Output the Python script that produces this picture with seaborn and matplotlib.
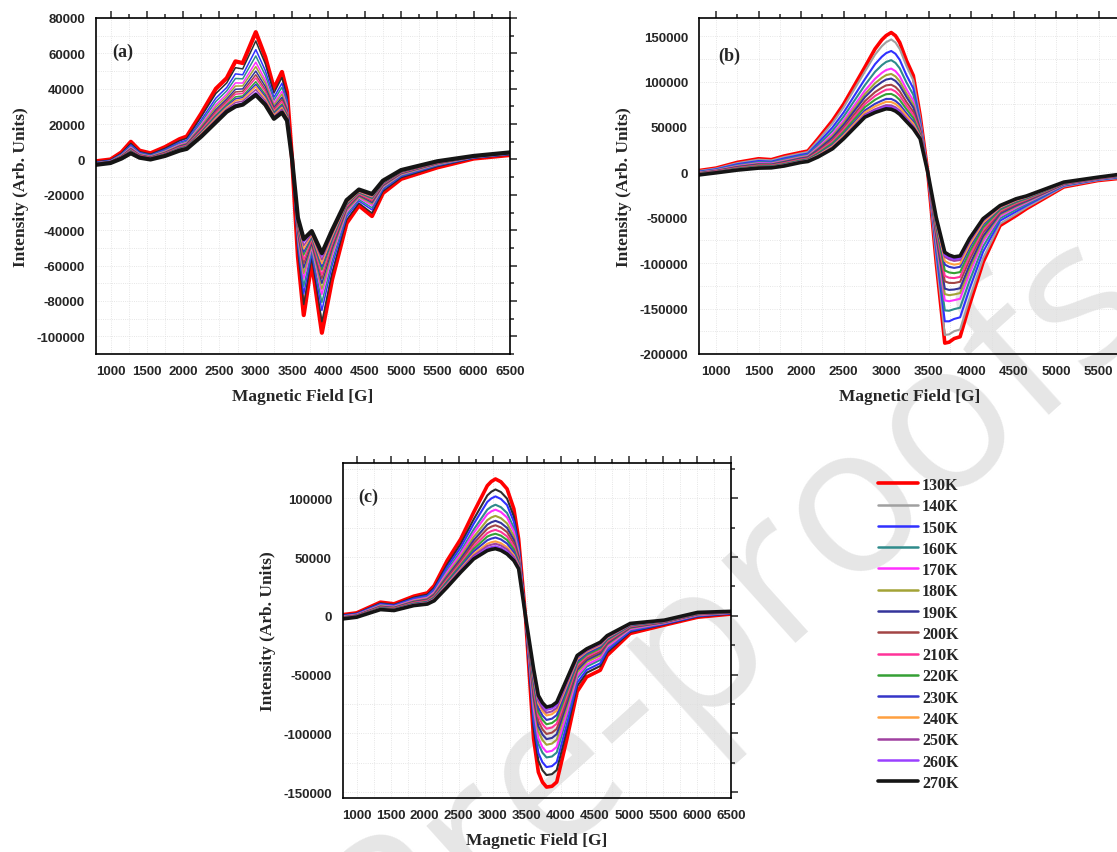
import matplotlib
matplotlib.use('Agg')
import matplotlib.pyplot as plt
from matplotlib.ticker import MultipleLocator
from matplotlib.lines import Line2D
import pandas as pd
import seaborn as sns

sns.set_style("white")
plt.rcParams['font.family'] = ['Liberation Sans', 'DejaVu Sans']
plt.rcParams['font.weight'] = 'bold'
plt.rcParams['axes.unicode_minus'] = False

temps = ['130K', '140K', '150K', '160K', '170K', '180K', '190K', '200K',
         '210K', '220K', '230K', '240K', '250K', '260K', '270K']
colors = ['#ff0000', '#a0a0a0', '#3030ff', '#2e8b8b', '#ff30ff', '#a3a336',
          '#34349a', '#a34545', '#ff3399', '#35a035', '#3535c8', '#ffa040',
          '#a040a0', '#9a40ff', '#151515']

# ---- panel (a) ----
field_a = [800, 1000, 1150, 1280, 1400, 1550, 1750, 1950, 2050, 2250, 2450, 2600, 2720, 2820, 3000, 3130, 3250,
           3360, 3430, 3500, 3580, 3660, 3770, 3910, 4050, 4250, 4420, 4600, 4750, 5000, 5500, 6000, 6500]
a130 = [-1000, 0, 4000, 10000, 5000, 3500, 7000, 11500, 13000, 26000, 40000, 46000, 55500, 54500, 72000, 58000, 40000, 49500, 38000, 0, -55000, -88000, -58000, -98000, -68000, -36000, -26000, -32000, -19000, -11000, -4500, 500, 2500]
a140 = [-1300, -300, 3500, 9100, 4400, 3000, 6300, 10600, 12000, 24200, 37300, 43300, 51900, 51200, 67000, 54200, 37600, 46300, 35800, 0, -51900, -82000, -55600, -91700, -64100, -34200, -24700, -30300, -18000, -10300, -4000, 700, 2700]
a150 = [-1600, -600, 3000, 8200, 3900, 2500, 5600, 9700, 11000, 22400, 34700, 40700, 48400, 47900, 62100, 50400, 35200, 43100, 33500, 0, -48800, -76000, -53100, -85400, -60200, -32400, -23500, -28500, -17000, -9600, -3500, 900, 2900]
a160 = [-1800, -800, 2700, 7500, 3500, 2200, 5100, 9000, 10300, 21100, 32800, 38800, 45800, 45600, 58500, 47700, 33500, 40800, 31900, 0, -46600, -71700, -51400, -80900, -57400, -31100, -22600, -27300, -16300, -9100, -3200, 1100, 3100]
a170 = [-2000, -1000, 2300, 6900, 3100, 1800, 4600, 8400, 9600, 19800, 30900, 36900, 43300, 43200, 55000, 45000, 31800, 38500, 30300, 0, -44400, -67400, -49600, -76400, -54600, -29800, -21700, -26000, -15600, -8600, -2800, 1200, 3200]
a180 = [-2100, -1100, 2100, 6400, 2800, 1600, 4300, 7900, 9200, 18900, 29600, 35600, 41500, 41600, 52500, 43200, 30700, 36900, 29200, 0, -42900, -64400, -48400, -73300, -52600, -28900, -21100, -25100, -15200, -8300, -2600, 1300, 3300]
a190 = [-2200, -1200, 1800, 6000, 2500, 1300, 3900, 7500, 8700, 17900, 28200, 34200, 39700, 39900, 50000, 41300, 29500, 35200, 28100, 0, -41400, -61300, -47200, -70100, -50600, -27900, -20400, -24300, -14700, -7900, -2300, 1400, 3400]
a200 = [-2400, -1400, 1600, 5600, 2300, 1100, 3600, 7100, 8200, 17200, 27100, 33100, 38200, 38500, 47900, 39600, 28400, 33900, 27100, 0, -40000, -58800, -46100, -67400, -49000, -27200, -19900, -23500, -14200, -7600, -2100, 1500, 3500]
a210 = [-2500, -1500, 1400, 5300, 2100, 900, 3400, 6800, 7900, 16500, 26100, 32100, 36900, 37300, 46100, 38300, 27600, 32700, 26300, 0, -38900, -56600, -45200, -65200, -47600, -26500, -19400, -22900, -13900, -7400, -1900, 1600, 3600]
a220 = [-2600, -1600, 1200, 4900, 1800, 700, 3100, 6400, 7500, 15700, 25000, 31000, 35400, 35900, 44000, 36700, 26600, 31300, 25400, 0, -37600, -54000, -44200, -62500, -45900, -25700, -18900, -22100, -13500, -7100, -1700, 1700, 3700]
a230 = [-2700, -1700, 1100, 4600, 1700, 600, 2900, 6100, 7200, 15200, 24200, 30200, 34300, 35000, 42500, 35600, 25900, 30400, 24700, 0, -36700, -52300, -43500, -60700, -44800, -25200, -18500, -21600, -13200, -6900, -1600, 1700, 3700]
a240 = [-2700, -1700, 1000, 4300, 1500, 500, 2700, 5800, 6900, 14700, 23500, 29500, 33300, 34100, 41100, 34500, 25200, 29500, 24100, 0, -35900, -50600, -42800, -58900, -43600, -24700, -18200, -21100, -12900, -6700, -1500, 1800, 3800]
a250 = [-2800, -1800, 800, 4100, 1300, 300, 2400, 5600, 6600, 14100, 22600, 28600, 32200, 33000, 39500, 33300, 24400, 28500, 23400, 0, -34900, -48700, -42000, -56800, -42400, -24100, -17800, -20600, -12600, -6400, -1300, 1900, 3900]
a260 = [-2900, -1900, 600, 3800, 1200, 100, 2200, 5300, 6300, 13500, 21800, 27800, 31000, 31900, 37900, 32100, 23700, 27400, 22600, 0, -33900, -46700, -41200, -54800, -41100, -23500, -17400, -20000, -12300, -6200, -1100, 1900, 3900]
a270 = [-3000, -2000, 500, 3500, 1000, 0, 2000, 5000, 6000, 13000, 21000, 27000, 30000, 31000, 36500, 31000, 23000, 26500, 22000, 0, -33000, -45000, -40500, -53000, -40000, -23000, -17000, -19500, -12000, -6000, -1000, 2000, 4000]

# ---- panel (b) ----
field_b = [800, 1000, 1250, 1500, 1650, 1800, 2000, 2080, 2200, 2370, 2500, 2750, 2870, 2950, 3000, 3060, 3110, 3160,
           3240, 3320, 3400, 3490, 3590, 3690, 3740, 3800, 3870, 3980, 4140, 4340, 4530, 4650, 5090, 5490, 5880, 6500]
b130 = [2000, 4700, 11000, 15000, 14000, 18000, 22000, 23500, 37000, 57000, 75000, 115800, 136000, 146000, 150600, 154000, 150500, 143000, 123000, 106500, 62500, 0, -100000, -188000, -187000, -183000, -181000, -146000, -99000, -58500, -47500, -40000, -16000, -9000, -5300, -2000]
b140 = [1600, 4200, 10200, 14100, 13200, 17000, 21000, 22500, 35200, 54200, 71600, 110900, 129700, 139000, 143300, 146400, 143000, 135900, 117000, 101200, 60200, 0, -95500, -179000, -178400, -174900, -173000, -139400, -94700, -56500, -45800, -38700, -15500, -8700, -4900, -1600]
b150 = [800, 3500, 9000, 12500, 11800, 15400, 19400, 20700, 32200, 49600, 65900, 102600, 119200, 127400, 131300, 133700, 130600, 124000, 106900, 92500, 56400, 0, -88000, -164000, -164000, -161400, -159600, -128500, -87500, -53200, -43100, -36600, -14700, -8100, -4100, -1000]
b160 = [300, 2800, 7900, 11300, 10800, 14000, 18000, 19400, 29800, 45800, 61300, 96000, 110800, 118100, 121600, 123600, 120600, 114600, 98900, 85400, 53300, 0, -82000, -152000, -152400, -150600, -149000, -119700, -81700, -50600, -40800, -35000, -14100, -7700, -3600, -600]
b170 = [-300, 2300, 7000, 10200, 9800, 12800, 16800, 18100, 27600, 42400, 57100, 90000, 103100, 109600, 112700, 114300, 111500, 105900, 91500, 79000, 50500, 0, -76500, -141000, -141900, -140700, -139200, -111700, -76400, -48200, -38800, -33400, -13500, -7300, -3000, -100]
b180 = [-600, 1900, 6400, 9400, 9100, 12100, 16100, 17300, 26200, 40300, 54500, 86100, 98200, 104200, 107100, 108400, 105700, 100300, 86800, 74900, 48700, 0, -73000, -134000, -135200, -134400, -132900, -106600, -73100, -46600, -37500, -32400, -13100, -7000, -2700, 200]
b190 = [-900, 1600, 5900, 8800, 8600, 11400, 15400, 16600, 25000, 38400, 52200, 82800, 94000, 99500, 102200, 103300, 100700, 95600, 82800, 71400, 47200, 0, -70000, -128000, -129400, -129000, -127600, -102200, -70200, -45300, -36400, -31600, -12800, -6800, -2400, 400]
b200 = [-1300, 1200, 5200, 8000, 7900, 10500, 14500, 15700, 23400, 35900, 49200, 78400, 88400, 93300, 95800, 96500, 94100, 89300, 77400, 66700, 45200, 0, -66000, -120000, -121700, -121800, -120500, -96400, -66400, -43500, -34900, -30500, -12400, -6500, -2000, 700]
b210 = [-1600, 900, 4700, 7400, 7300, 9900, 13900, 15000, 22200, 34100, 46900, 75100, 84200, 88700, 91000, 91500, 89100, 84500, 73400, 63200, 43600, 0, -63000, -114000, -116000, -116400, -115100, -92000, -63500, -42200, -33800, -29600, -12100, -6300, -1700, 1000]
b220 = [-1800, 500, 4200, 6800, 6800, 9200, 13200, 14300, 21000, 32200, 44600, 71800, 80000, 84000, 86100, 86400, 84100, 79800, 69400, 59700, 42100, 0, -60000, -108000, -110200, -111000, -109800, -87600, -60600, -40900, -32700, -28800, -11800, -6000, -1500, 1200]
b230 = [-2200, 200, 3600, 6100, 6200, 8500, 12500, 13600, 19700, 30200, 42100, 68200, 75500, 79000, 80900, 80900, 78700, 74700, 65000, 55900, 40400, 0, -56800, -101500, -104000, -105200, -104000, -82900, -57500, -39500, -31500, -27900, -11400, -5800, -1100, 1500]
b240 = [-2300, 0, 3300, 5700, 5900, 8000, 12000, 13100, 18900, 28900, 40600, 66000, 72700, 75900, 77700, 77500, 75400, 71500, 62400, 53600, 39400, 0, -54800, -97500, -100100, -101600, -100500, -79900, -55600, -38600, -30800, -27300, -11200, -5700, -1000, 1600]
b250 = [-2600, -200, 2900, 5200, 5500, 7600, 11600, 12600, 18000, 27600, 38900, 63600, 69500, 72400, 74000, 73700, 71700, 68000, 59400, 50900, 38300, 0, -52500, -93000, -95800, -97500, -96500, -76700, -53400, -37600, -29900, -26700, -11000, -5500, -700, 1800]
b260 = [-2700, -300, 2800, 5000, 5300, 7300, 11300, 12300, 17600, 26900, 38100, 62500, 68100, 70800, 72400, 72000, 70000, 66400, 58000, 49800, 37800, 0, -51500, -91000, -93900, -95700, -94700, -75200, -52400, -37200, -29600, -26400, -10900, -5400, -600, 1900]
b270 = [-2800, -500, 2500, 4700, 5000, 7000, 11000, 12000, 17000, 26000, 37000, 60800, 66000, 68500, 70000, 69500, 67500, 64000, 56000, 48000, 37000, 0, -50000, -88000, -91000, -93000, -92000, -73000, -51000, -36500, -29000, -26000, -10700, -5300, -500, 2000]

# ---- panel (c) ----
field_c = [800, 1000, 1350, 1550, 1840, 2040, 2140, 2330, 2530, 2720, 2920, 2980, 3040, 3120, 3210, 3310, 3380,
           3480, 3600, 3670, 3730, 3790, 3870, 3940, 4090, 4240, 4380, 4580, 4680, 5020, 5520, 6010, 6500]
c130 = [1000, 2500, 11600, 10200, 16700, 19500, 25700, 47000, 65400, 88100, 110700, 114300, 116400, 114000, 108000, 91000, 65400, 0, -104600, -133000, -141500, -145700, -145000, -141400, -104600, -64500, -52000, -46300, -33800, -15000, -7900, -1200, 1500]
c140 = [500, 1900, 10700, 9300, 15500, 18100, 23800, 43600, 61200, 82100, 102400, 105600, 107500, 105300, 99700, 84400, 61600, 0, -95700, -123200, -131400, -135500, -134700, -131200, -97000, -59900, -48400, -42700, -31300, -13700, -7300, -600, 1800]
c150 = [100, 1600, 10000, 8800, 14700, 17100, 22500, 41300, 58300, 78200, 96900, 99900, 101600, 99400, 94200, 80000, 59100, 0, -89700, -116700, -124600, -128700, -127900, -124400, -91900, -56800, -46000, -40400, -29600, -12900, -6900, -200, 2100]
c160 = [-300, 1100, 9300, 8100, 13700, 16000, 20900, 38600, 54900, 73400, 90300, 92900, 94500, 92400, 87500, 74700, 56000, 0, -82600, -108900, -116500, -120500, -119700, -116300, -85700, -53100, -43200, -37500, -27500, -11900, -6300, 300, 2400]
c170 = [-600, 900, 8800, 7700, 13200, 15300, 20000, 37000, 52900, 70600, 86400, 88900, 90300, 88300, 83600, 71600, 54200, 0, -78400, -104300, -111800, -115800, -114900, -111500, -82200, -51000, -41500, -35800, -26400, -11300, -6100, 600, 2500]
c180 = [-900, 500, 8300, 7200, 12500, 14500, 18900, 35000, 50400, 67100, 81400, 83700, 85000, 83100, 78600, 67700, 51900, 0, -73100, -98400, -105700, -109700, -108700, -105400, -77600, -48200, -39300, -33700, -24800, -10500, -5700, 1000, 2700]
c190 = [-1200, 300, 7800, 6800, 11900, 13800, 18000, 33400, 48400, 64300, 77600, 79600, 80800, 79000, 74800, 64600, 50200, 0, -68900, -93900, -101000, -104900, -103900, -100700, -74000, -46100, -37700, -32000, -23700, -9900, -5400, 1300, 2900]
c200 = [-1400, 0, 7400, 6400, 11400, 13200, 17100, 31900, 46600, 61700, 74000, 75900, 77000, 75200, 71200, 61700, 48500, 0, -65000, -89600, -96600, -100500, -99400, -96200, -70700, -44100, -36100, -30500, -22600, -9300, -5100, 1500, 3000]
c210 = [-1600, -200, 7000, 6000, 10900, 12600, 16300, 30400, 44700, 59100, 70400, 72100, 73100, 71400, 67600, 58900, 46900, 0, -61200, -85400, -92200, -96100, -95000, -91800, -67400, -42100, -34600, -28900, -21500, -8800, -4800, 1800, 3200]
c220 = [-1800, -400, 6700, 5700, 10400, 12000, 15600, 29200, 43200, 56900, 67400, 68900, 69800, 68200, 64500, 56500, 45500, 0, -57900, -81800, -88500, -92300, -91200, -88100, -64600, -40400, -33200, -27600, -20500, -8300, -4600, 2000, 3300]
c230 = [-2000, -600, 6300, 5400, 10000, 11500, 14900, 27900, 41600, 54800, 64300, 65700, 66600, 65000, 61500, 54000, 44100, 0, -54600, -78200, -84800, -88600, -87500, -84400, -61800, -38700, -31900, -26300, -19600, -7900, -4400, 2200, 3400]
c240 = [-2200, -800, 6000, 5100, 9500, 11000, 14200, 26700, 40100, 52600, 61300, 62600, 63300, 61800, 58400, 51600, 42700, 0, -51300, -74600, -81100, -84800, -83700, -80600, -59000, -37000, -30600, -25000, -18700, -7400, -4100, 2500, 3600]
c250 = [-2300, -900, 5700, 4900, 9300, 10700, 13700, 25900, 39100, 51200, 59400, 60500, 61300, 59800, 56500, 50100, 41800, 0, -49300, -72400, -78700, -82500, -81300, -78300, -57200, -35900, -29800, -24200, -18100, -7100, -4000, 2600, 3600]
c260 = [-2500, -1100, 5500, 4700, 9000, 10300, 13300, 25100, 38100, 49800, 57400, 58500, 59200, 57700, 54500, 48500, 40900, 0, -47200, -70100, -76400, -80100, -78900, -75900, -55400, -34900, -28900, -23300, -17500, -6800, -3800, 2800, 3700]
c270 = [-2600, -1200, 5300, 4500, 8700, 10000, 12800, 24300, 37100, 48400, 55500, 56500, 57100, 55700, 52600, 47000, 40000, 0, -45100, -67800, -74000, -77700, -76500, -73500, -53600, -33800, -28100, -22500, -16900, -6500, -3700, 2900, 3800]

curves_a = [a130, a140, a150, a160, a170, a180, a190, a200, a210, a220, a230, a240, a250, a260, a270]
curves_b = [b130, b140, b150, b160, b170, b180, b190, b200, b210, b220, b230, b240, b250, b260, b270]
curves_c = [c130, c140, c150, c160, c170, c180, c190, c200, c210, c220, c230, c240, c250, c260, c270]

SERIF = 'Liberation Serif'


def long_df(field, curves):
    rows = []
    for t, vals in zip(temps, curves):
        for x, y in zip(field, vals):
            rows.append((x, y, t))
    return pd.DataFrame(rows, columns=['field', 'intensity', 'temp'])


def draw_panel(ax, field, curves, xlim, ylim, ymajor, tag, tagpos,
               thick, thin, dark140):
    df = long_df(field, curves)
    pal = list(colors)
    if dark140:
        pal[1] = '#2e2e2e'
    widths = {t: thin for t in temps}
    widths['130K'] = thick
    widths['270K'] = thick
    sns.lineplot(data=df, x='field', y='intensity', hue='temp', hue_order=temps,
                 palette=pal, size='temp', size_order=temps, sizes=widths,
                 estimator=None, sort=False, legend=False, ax=ax)
    ax.set_facecolor('none')
    ax.set_xlim(*xlim)
    ax.set_ylim(*ylim)
    ax.xaxis.set_major_locator(MultipleLocator(500))
    ax.xaxis.set_minor_locator(MultipleLocator(250))
    ax.yaxis.set_major_locator(MultipleLocator(ymajor))
    ax.yaxis.set_minor_locator(MultipleLocator(ymajor / 2))
    ax.grid(which='both', color='#dedede', lw=0.6, ls=':')
    ax.set_axisbelow(True)
    ax.tick_params(which='both', direction='out', top=True, right=True,
                   labeltop=False, labelright=False, width=1.1)
    ax.tick_params(which='major', length=5, labelsize=9.5, pad=3)
    ax.tick_params(which='minor', length=3)
    for s in ax.spines.values():
        s.set_color('black')
        s.set_linewidth(1.2)
    ax.set_xlabel('Magnetic Field [G]', family=SERIF, fontsize=12.5,
                  fontweight='bold', labelpad=8)
    ax.set_ylabel('Intensity (Arb. Units)', family=SERIF, fontsize=12.5,
                  fontweight='bold', labelpad=5)
    ax.text(tagpos[0], tagpos[1], tag, transform=ax.transAxes, family=SERIF,
            fontsize=13, fontweight='bold', va='center', ha='left')


fig = plt.figure(figsize=(11.17, 8.53), dpi=100)
fig.patch.set_facecolor('white')

# light diagonal watermark behind the panels
fig.text(0.658, 0.29, 'Pre-proofs', rotation=42, fontsize=150, color='#e6e6e6',
         ha='center', va='center', family='Open Sans', fontweight='normal',
         zorder=-1)

ax_a = fig.add_axes([96 / 1117, 1 - 355 / 853, 414 / 1117, 336 / 853])
draw_panel(ax_a, field_a, curves_a, (800, 6500), (-110000, 80000), 20000,
           '(a)', (0.04, 0.9), 3.0, 1.1, True)

ax_b = fig.add_axes([699 / 1117, 1 - 355 / 853, 421 / 1117, 336 / 853])
draw_panel(ax_b, field_b, curves_b, (800, 5750), (-200000, 170000), 50000,
           '(b)', (0.045, 0.89), 2.6, 1.5, False)

ax_c = fig.add_axes([343 / 1117, 1 - 799 / 853, 388 / 1117, 335 / 853])
draw_panel(ax_c, field_c, curves_c, (800, 6500), (-155000, 130000), 50000,
           '(c)', (0.04, 0.9), 2.6, 1.5, True)

handles = []
for t, c in zip(temps, colors):
    lw = 2.6 if t in ('130K', '270K') else 1.8
    handles.append(Line2D([0], [0], color=c, lw=lw))
fig.legend(handles, temps, loc='upper left', bbox_to_anchor=(878 / 1117, 1 - 478 / 853),
           frameon=False, borderpad=0, borderaxespad=0, handlelength=2.5,
           handletextpad=0.25, labelspacing=0.33,
           prop={'family': SERIF, 'weight': 'bold', 'size': 11.5})

fig.savefig('out.png', dpi=100)
